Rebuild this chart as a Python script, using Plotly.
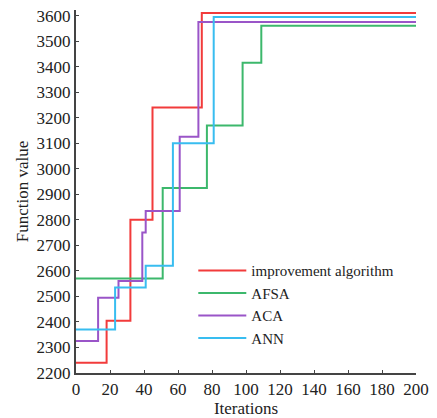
import plotly.graph_objects as go

names = ["improvement algorithm", "AFSA", "ACA", "ANN"]
colors = ["#f23b3b", "#3cb86c", "#9a55c8", "#38bdf0"]

red_x = [0, 18, 32, 45, 74, 200]
red_y = [2240, 2405, 2800, 3240, 3610, 3610]
green_x = [0, 51, 77, 98, 109, 200]
green_y = [2570, 2925, 3170, 3415, 3560, 3560]
purple_x = [0, 13, 25, 39, 41, 61, 72, 200]
purple_y = [2325, 2495, 2560, 2750, 2835, 3125, 3575, 3575]
cyan_x = [0, 23, 41, 57, 81, 200]
cyan_y = [2370, 2535, 2620, 3100, 3595, 3595]

x_ticks = list(range(0, 201, 20))
y_ticks = list(range(2200, 3601, 100))

series = [(red_x, red_y), (green_x, green_y), (purple_x, purple_y), (cyan_x, cyan_y)]

fig = go.Figure()
for (xs, ys), n, c in zip(series, names, colors):
    fig.add_trace(go.Scatter(x=xs, y=ys, name=n, mode="lines",
                             line=dict(color=c, width=2, shape="hv")))

font = "Liberation Serif"
fig.update_layout(
    width=437, height=418,
    margin=dict(l=76, r=21, t=7, b=37),
    paper_bgcolor="white", plot_bgcolor="white",
    font=dict(family=font, size=17, color="#222222"),
    showlegend=True,
    legend=dict(x=0.345, y=0.327, xanchor="left", yanchor="top",
                bgcolor="rgba(0,0,0,0)", font=dict(family=font, size=15, color="#222222"),
                tracegroupgap=0, itemwidth=48),
    xaxis=dict(range=[0, 200], tickvals=x_ticks, showgrid=False, zeroline=False,
               showline=True, linecolor="#444444", linewidth=2,
               ticks="inside", ticklen=3, tickcolor="#444444",
               title=dict(text="Iterations", standoff=0, font=dict(size=17))),
    yaxis=dict(range=[2200, 3622], tickvals=y_ticks, showgrid=False, zeroline=False,
               showline=True, linecolor="#444444", linewidth=2,
               ticks="inside", ticklen=3, tickcolor="#444444",
               title=dict(text="Function value", standoff=4, font=dict(size=17))),
)

fig.write_html("out.html")
